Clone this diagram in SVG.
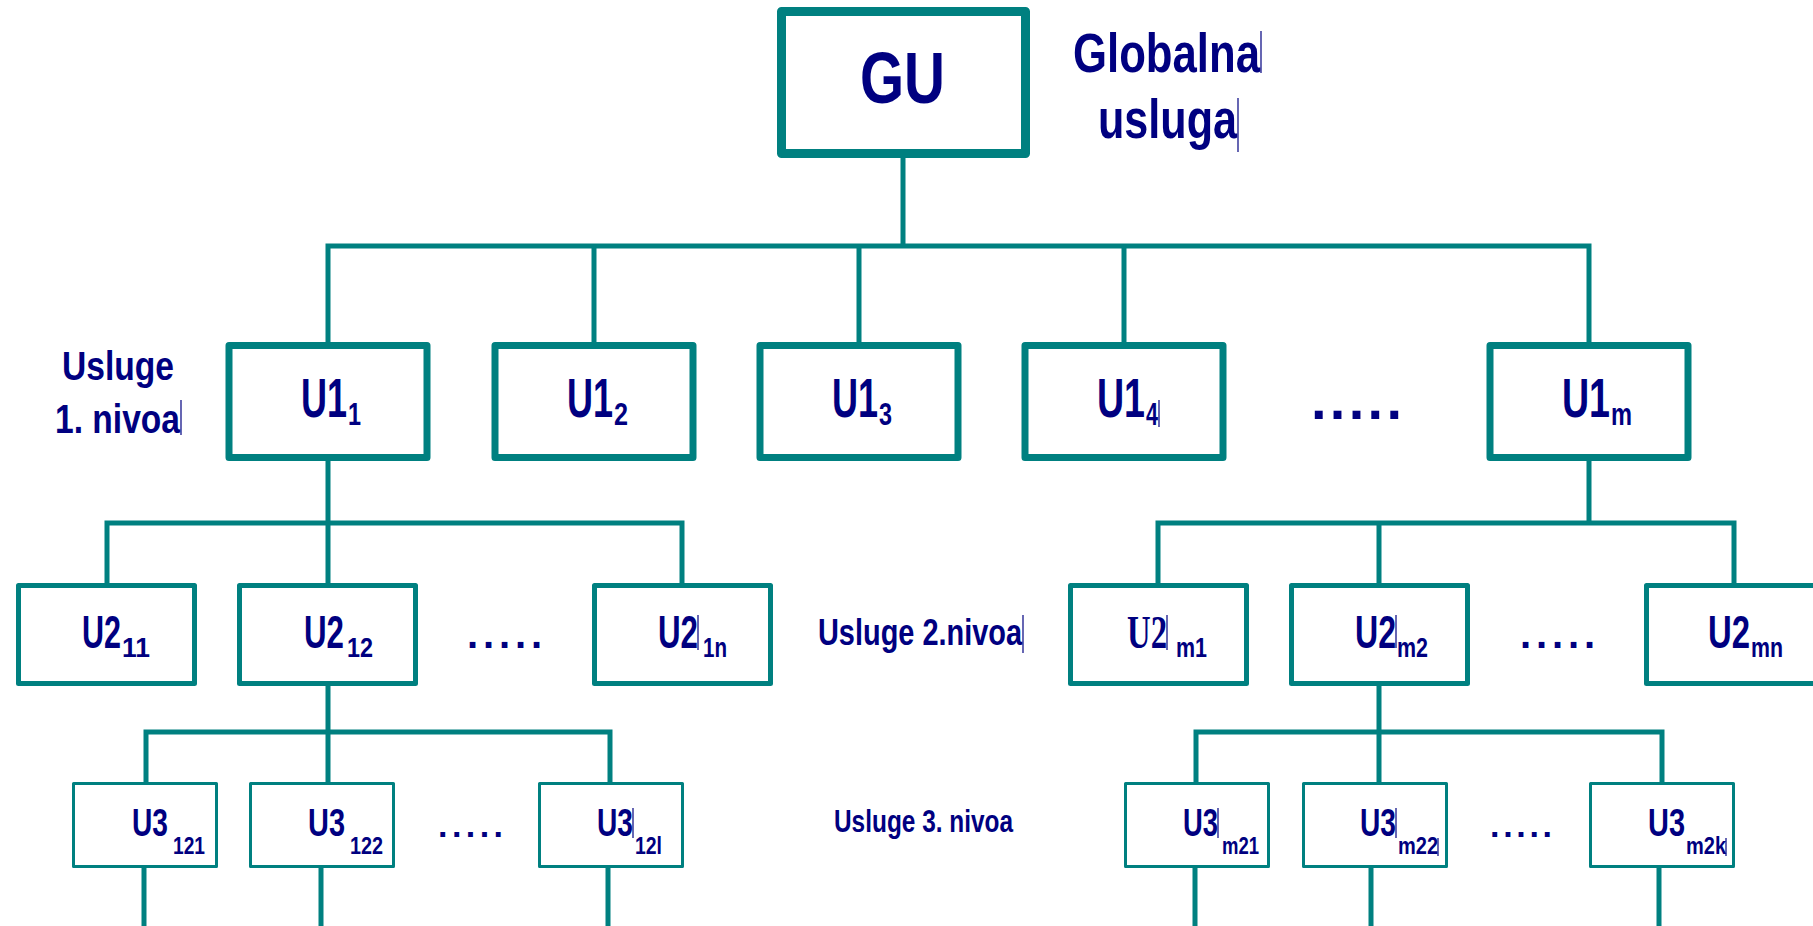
<svg xmlns="http://www.w3.org/2000/svg" width="1813" height="926" viewBox="0 0 1813 926">
<style>
.b{fill:#fff;stroke:#008080;stroke-linejoin:round}
.l0{stroke-width:9}.l1{stroke-width:7}.l2{stroke-width:5}.l3{stroke-width:3}
.t{font-family:"Liberation Sans",Arial,sans-serif;font-weight:bold;fill:#000080}
.s{font-family:"Liberation Serif","Times New Roman",serif;font-weight:bold;fill:#000080}
.f0{font-size:72px}.f1{font-size:56px}.f1s{font-size:32px}.f2{font-size:46px}.f2s{font-size:28px}.f3{font-size:39px}.f3s{font-size:24px}
.cur{stroke:#000080;stroke-width:1.2}
</style>
<rect width="1813" height="926" fill="#fff"/>
<g id="connectors" fill="none" stroke="#008080" stroke-width="5" stroke-linecap="square">
<path d="M903 158V246M328 246H1589M328 246V342M594 246V342M859 246V342M1124 246V342M1589 246V342"/>
<path d="M328 461V523M107 523H682M107 523V583M328 523V583M682 523V583"/>
<path d="M1589 461V523M1158 523H1734M1158 523V583M1379 523V583M1734 523V583"/>
<path d="M328 686V732M146 732H610M146 732V782M328 732V782M610 732V782"/>
<path d="M1379 686V732M1196 732H1662M1196 732V782M1379 732V782M1662 732V782"/>
<path d="M144 868V930M321 868V930M608 868V930M1195 868V930M1371 868V930M1659 868V930"/>
</g>
<g id="labels">
<text class="t" x="1073" y="72" font-size="56" textLength="187" lengthAdjust="spacingAndGlyphs">Globalna</text>
<line class="cur" x1="1261" y1="31" x2="1261" y2="73"/>
<text class="t" x="1098" y="138" font-size="56" textLength="139" lengthAdjust="spacingAndGlyphs">usluga</text>
<line class="cur" x1="1238" y1="98" x2="1238" y2="152"/>
<text class="t" x="62" y="380" font-size="40" textLength="112" lengthAdjust="spacingAndGlyphs">Usluge</text>
<text class="t" x="55" y="433" font-size="40" textLength="125" lengthAdjust="spacingAndGlyphs">1. nivoa</text>
<line class="cur" x1="181" y1="400" x2="181" y2="435"/>
<text class="t" x="818" y="645" font-size="37" textLength="204" lengthAdjust="spacingAndGlyphs">Usluge 2.nivoa</text>
<line class="cur" x1="1023" y1="615" x2="1023" y2="653"/>
<text class="t" x="834" y="832" font-size="32" textLength="179" lengthAdjust="spacingAndGlyphs">Usluge 3. nivoa</text>
<text class="t" x="1311" y="419" font-size="56" textLength="91" lengthAdjust="spacing">.....</text>
<text class="t" x="467" y="648" font-size="40" textLength="75" lengthAdjust="spacing">.....</text>
<text class="t" x="1520" y="648" font-size="40" textLength="75" lengthAdjust="spacing">.....</text>
<text class="t" x="438" y="837" font-size="34" textLength="65" lengthAdjust="spacing">.....</text>
<text class="t" x="1490" y="837" font-size="34" textLength="62" lengthAdjust="spacing">.....</text>
</g>
<g id="GU">
<rect class="b l0" x="781.5" y="11.5" width="244" height="142"/>
<text class="t f0" x="860" y="103" textLength="85" lengthAdjust="spacingAndGlyphs">GU</text>
</g>
<g id="U1_1">
<rect class="b l1" x="229" y="345.5" width="198" height="112"/>
<text class="t f1" x="301" y="417" textLength="46" lengthAdjust="spacingAndGlyphs">U1</text>
<text class="t f1s" x="348" y="425" textLength="13" lengthAdjust="spacingAndGlyphs">1</text>
</g>
<g id="U1_2">
<rect class="b l1" x="495" y="345.5" width="198" height="112"/>
<text class="t f1" x="567" y="417" textLength="46" lengthAdjust="spacingAndGlyphs">U1</text>
<text class="t f1s" x="614" y="425" textLength="14" lengthAdjust="spacingAndGlyphs">2</text>
</g>
<g id="U1_3">
<rect class="b l1" x="760" y="345.5" width="198" height="112"/>
<text class="t f1" x="832" y="417" textLength="46" lengthAdjust="spacingAndGlyphs">U1</text>
<text class="t f1s" x="879" y="425" textLength="13" lengthAdjust="spacingAndGlyphs">3</text>
</g>
<g id="U1_4">
<rect class="b l1" x="1025" y="345.5" width="198" height="112"/>
<text class="t f1" x="1097" y="417" textLength="48" lengthAdjust="spacingAndGlyphs">U1</text>
<text class="t f1s" x="1146" y="425" textLength="12" lengthAdjust="spacingAndGlyphs">4</text>
<line class="cur" x1="1159" y1="400" x2="1159" y2="427"/>
</g>
<g id="U1_m">
<rect class="b l1" x="1490" y="345.5" width="198" height="112"/>
<text class="t f1" x="1562" y="417" textLength="48" lengthAdjust="spacingAndGlyphs">U1</text>
<text class="t f1s" x="1611" y="425" textLength="21" lengthAdjust="spacingAndGlyphs">m</text>
</g>
<g id="U2_11">
<rect class="b l2" x="18.5" y="585.5" width="176" height="98"/>
<text class="t f2" x="82" y="648" textLength="39" lengthAdjust="spacingAndGlyphs">U2</text>
<text class="t f2s" x="122" y="657" textLength="28" lengthAdjust="spacingAndGlyphs">11</text>
</g>
<g id="U2_12">
<rect class="b l2" x="239.5" y="585.5" width="176" height="98"/>
<text class="t f2" x="304" y="648" textLength="40" lengthAdjust="spacingAndGlyphs">U2</text>
<text class="t f2s" x="347" y="657" textLength="26" lengthAdjust="spacingAndGlyphs">12</text>
</g>
<g id="U2_1n">
<rect class="b l2" x="594.5" y="585.5" width="176" height="98"/>
<text class="t f2" x="658" y="648" textLength="40" lengthAdjust="spacingAndGlyphs">U2</text>
<line class="cur" x1="698" y1="615" x2="698" y2="650"/>
<text class="t f2s" x="703" y="657" textLength="24" lengthAdjust="spacingAndGlyphs">1n</text>
</g>
<g id="U2_m1">
<rect class="b l2" x="1070.5" y="585.5" width="176" height="98"/>
<text class="s f2" x="1127" y="648" textLength="40" lengthAdjust="spacingAndGlyphs">U2</text>
<line class="cur" x1="1167" y1="615" x2="1167" y2="650"/>
<text class="t f2s" x="1176" y="657" textLength="31" lengthAdjust="spacingAndGlyphs">m1</text>
</g>
<g id="U2_m2">
<rect class="b l2" x="1291.5" y="585.5" width="176" height="98"/>
<text class="t f2" x="1355" y="648" textLength="41" lengthAdjust="spacingAndGlyphs">U2</text>
<line class="cur" x1="1396" y1="615" x2="1396" y2="648"/>
<text class="t f2s" x="1397" y="657" textLength="31" lengthAdjust="spacingAndGlyphs">m2</text>
</g>
<g id="U2_mn">
<rect class="b l2" x="1646.5" y="585.5" width="176" height="98"/>
<text class="t f2" x="1708" y="648" textLength="42" lengthAdjust="spacingAndGlyphs">U2</text>
<text class="t f2s" x="1751" y="657" textLength="32" lengthAdjust="spacingAndGlyphs">mn</text>
</g>
<g id="U3_121">
<rect class="b l3" x="73.5" y="783.5" width="143" height="83"/>
<text class="t f3" x="132" y="836" textLength="36" lengthAdjust="spacingAndGlyphs">U3</text>
<text class="t f3s" x="173" y="854" textLength="32" lengthAdjust="spacingAndGlyphs">121</text>
</g>
<g id="U3_122">
<rect class="b l3" x="250.5" y="783.5" width="143" height="83"/>
<text class="t f3" x="308" y="836" textLength="37" lengthAdjust="spacingAndGlyphs">U3</text>
<text class="t f3s" x="350" y="854" textLength="33" lengthAdjust="spacingAndGlyphs">122</text>
</g>
<g id="U3_12l">
<rect class="b l3" x="539.5" y="783.5" width="143" height="83"/>
<text class="t f3" x="597" y="836" textLength="36" lengthAdjust="spacingAndGlyphs">U3</text>
<line class="cur" x1="633" y1="808" x2="633" y2="838"/>
<text class="t f3s" x="635" y="854" textLength="27" lengthAdjust="spacingAndGlyphs">12l</text>
</g>
<g id="U3_m21">
<rect class="b l3" x="1125.5" y="783.5" width="143" height="83"/>
<text class="t f3" x="1183" y="836" textLength="35" lengthAdjust="spacingAndGlyphs">U3</text>
<line class="cur" x1="1218" y1="808" x2="1218" y2="838"/>
<text class="t f3s" x="1222" y="854" textLength="37" lengthAdjust="spacingAndGlyphs">m21</text>
</g>
<g id="U3_m22">
<rect class="b l3" x="1303.5" y="783.5" width="143" height="83"/>
<text class="t f3" x="1360" y="836" textLength="36" lengthAdjust="spacingAndGlyphs">U3</text>
<line class="cur" x1="1396" y1="808" x2="1396" y2="838"/>
<text class="t f3s" x="1398" y="854" textLength="40" lengthAdjust="spacingAndGlyphs">m22</text>
<line class="cur" x1="1438" y1="838" x2="1438" y2="856"/>
</g>
<g id="U3_m2k">
<rect class="b l3" x="1590.5" y="783.5" width="143" height="83"/>
<text class="t f3" x="1648" y="836" textLength="37" lengthAdjust="spacingAndGlyphs">U3</text>
<text class="t f3s" x="1686" y="854" textLength="40" lengthAdjust="spacingAndGlyphs">m2k</text>
<line class="cur" x1="1726" y1="838" x2="1726" y2="856"/>
</g>
</svg>
